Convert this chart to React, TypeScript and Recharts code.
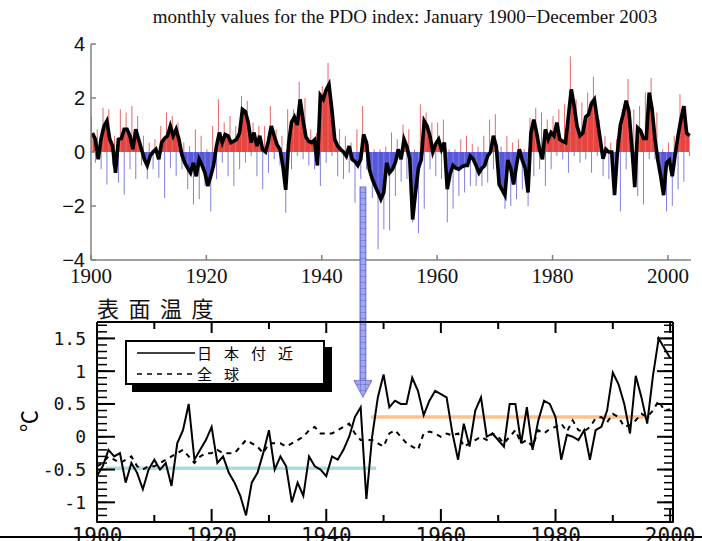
import React from 'react';
import { ComposedChart, Line, Area, Bar, XAxis, YAxis, ReferenceLine } from 'recharts';

// PDO index, smoothed, two values per year (first half, second half), 1900-2003
const pdoSmooth = [
  0.7, 0.47, -0.27, 0.5, 0.96, 1.15, 0.47, 0.22, -0.77, 0.47,
  0.5, 0.84, 0.84, 0.6, 0.1, 0.84, 0.47, 0.1, -0.27, -0.5,
  -0.15, 0.0, 0.1, -0.27, 0.35, 0.5, 0.6, 0.96, 0.6, 0.84,
  0.47, -0.1, -0.4, -0.6, -0.77, -0.4, -0.9, -0.27, -0.5, -0.77,
  -1.26, -0.9, -0.5, 0.22, 0.72, 0.35, 0.65, 0.6, 0.35, 0.4,
  0.47, 0.7, 1.58, 1.5, 1.1, 0.35, 0.72, 0.22, 0.6, 0.1,
  0.0, 0.4, 0.96, 0.6, 0.27, 0.1, -0.5, -1.4, 0.3, 1.1,
  1.3, 1.0, 1.95, 1.2, 0.55, 0.4, 0.35, 0.45, -0.5, 2.1,
  1.95, 2.3, 2.5, 1.58, 0.47, 0.22, 0.1, 0.0, -0.15, 0.22,
  -0.27, -0.35, -0.5, -0.27, 0.65, 0.35, -0.64, -1.0, -1.26, -1.5,
  -1.75, -1.5, -0.4, -0.77, -0.64, -0.4, 0.1, -0.27, 0.47, 0.2,
  -0.27, -2.5, -1.5, -0.6, -0.27, 1.15, 0.96, 0.6, 0.0, 0.3,
  0.47, 0.1, 0.35, -1.38, -0.8, -0.5, -0.6, -0.64, -0.55, -0.5,
  -0.5, -0.15, -0.27, -0.5, -0.77, -0.6, -0.5, -0.15, 0.0, 0.6,
  0.2, -1.2, -1.4, -1.6, -0.3, -0.6, -1.2, -0.5, 0.1, -0.3,
  -0.6, -1.5, 0.7, 1.2, 0.7, 0.1, -0.27, 0.84, 0.47, 0.72,
  0.6, 1.09, 0.47, 0.4, 0.35, 1.33, 2.32, 1.7, 0.96, 0.6,
  0.7, 1.3, 1.4, 1.8, 1.95, 1.2, 0.5, -0.25, 0.1, 0.0,
  0.0, -1.6, 0.0, 1.0, 1.4, 1.9, 1.5, 0.2, -1.3, 0.9,
  0.8, 0.5, 0.5, 2.2, 1.6, 0.5, -0.3, -0.9, -1.6, -0.4,
  -0.3, -0.9, -0.1, 0.6, 1.2, 1.7, 0.7, 0.6,
];

// highest and lowest monthly value of each year, 1900-2003
const pdoHigh = [
  1.33, 0.84, 1.64, 1.58, 0.6, 1.58, 1.46, 1.7, 1.33, 0.6,
  0.35, 0.47, 0.96, 1.46, 1.33, 1.09, 0.35, 0.22, 0.84, 0.6,
  0.1, 0.96, 1.95, 1.09, 1.33, 0.96, 2.07, 1.89, 1.09, 0.96,
  0.96, 1.7, 0.84, 0.6, 1.58, 1.58, 2.6, 2.0, 0.84, 0.7,
  2.44, 3.3, 1.2, 0.84, 0.6, 0.35, 0.84, 1.7, 0.3, 0.1,
  0.1, 0.2, 0.72, 0.47, 1.02, 0.84, 0.1, 1.77, 1.46, 1.09,
  1.09, 1.2, 0.1, 0.1, 0.47, 0.6, 0.3, 0.2, 0.6, 1.2,
  1.4, 0.2, 0.6, 0.35, 0.47, 0.1, 1.27, 1.64, 1.46, 1.2,
  1.33, 1.58, 1.77, 3.55, 1.95, 1.83, 2.2, 2.8, 1.2, 0.6,
  0.35, 0.47, 1.58, 2.7, 1.58, 1.7, 2.2, 2.75, 1.46, 0.1,
  0.35, 0.6, 2.14, 1.7,
];
const pdoLow = [
  -0.4, -0.64, -1.2, -0.5, -1.13, -1.57, -0.64, -1.0, -0.5, -1.0,
  -0.64, -0.95, -1.7, -0.6, -0.9, -0.64, -1.38, -1.94, -1.75, -1.26,
  -2.2, -1.0, -0.4, -0.9, -1.26, -0.64, -0.4, -0.15, -0.9, -1.38,
  -0.77, -0.27, -0.5, -2.25, -0.64, -0.15, -0.27, -0.5, -0.64, -1.26,
  -0.4, -0.15, -0.9, -1.0, -0.77, -1.88, -1.0, -0.64, -1.7, -3.6,
  -2.86, -2.9, -1.63, -1.1, -1.0, -2.6, -3.0, -2.1, -0.64, -0.9,
  -1.0, -2.6, -2.1, -1.63, -1.5, -1.26, -1.26, -1.26, -1.13, -0.64,
  -1.0, -2.1, -2.0, -1.75, -1.38, -2.0, -0.9, -0.64, -1.26, -0.64,
  -0.15, -0.27, -0.77, -0.15, -0.4, -0.27, -0.77, -0.15, -0.9, -1.0,
  -1.26, -2.2, -0.64, -0.4, -1.63, -1.94, -0.27, -0.27, -1.26, -2.2,
  -2.0, -1.38, -1.1, -0.15,
];

// surface temperature anomaly (°C), 1900-2000
const japanTemp = [
  -0.6, -0.45, -0.2, -0.3, -0.25, -0.7, -0.4, -0.55, -0.8, -0.5,
  -0.35, -0.5, -0.4, -0.75, -0.1, 0.1, 0.5, -0.35, -0.2, -0.05,
  0.15, -0.4, -0.3, -0.55, -0.7, -0.9, -1.2, -0.7, -0.55, -0.25,
  0.1, -0.5, -0.3, -0.45, -1.0, -0.7, -0.9, -0.3, -0.45, -0.5,
  -0.6, -0.3, -0.35, -0.2, 0.0, 0.3, 0.45, -0.95, 0.0, 0.6,
  0.95, 0.45, 0.55, 0.5, 0.5, 0.9, 0.7, 0.33, 0.55, 0.7,
  0.65, 0.6, 0.06, -0.35, 0.2, -0.15, 0.4, 0.6, 0.0, 0.05,
  -0.05, -0.15, 0.5, 0.5, -0.1, 0.45, -0.2, 0.25, 0.55, 0.5,
  0.3, -0.35, 0.03, 0.0, -0.05, 0.1, -0.35, 0.1, 0.15, 0.4,
  0.98, 0.8, 0.5, 0.05, 0.93, 0.6, 0.2, 0.93, 1.5, 1.35,
  1.2,
];
const globalTemp = [
  -0.45, -0.4, -0.3, -0.35, -0.4, -0.35, -0.3, -0.45, -0.5, -0.45,
  -0.45, -0.4, -0.35, -0.3, -0.25, -0.2, -0.3, -0.4, -0.3, -0.25,
  -0.25, -0.2, -0.25, -0.25, -0.25, -0.15, -0.05, -0.1, -0.15, -0.25,
  -0.1, -0.1, -0.1, -0.15, -0.1, -0.05, 0.0, 0.1, 0.15, 0.05,
  0.05, 0.05, 0.1, 0.15, 0.2, 0.05, -0.05, -0.05, -0.05, -0.1,
  -0.15, 0.05, 0.1, 0.0, -0.1, -0.15, -0.2, 0.05, 0.08, 0.05,
  0.0, 0.05, 0.02, 0.05, -0.15, -0.1, -0.05, 0.0, -0.05, 0.05,
  0.0, -0.1, 0.0, 0.1, -0.1, -0.05, -0.15, 0.1, 0.05, 0.12,
  0.15, 0.2, 0.08, 0.25, 0.1, 0.08, 0.15, 0.28, 0.3, 0.22,
  0.35, 0.3, 0.15, 0.18, 0.25, 0.35, 0.3, 0.4, 0.55, 0.4,
  0.42,
];

// period means drawn as bars of colour, and the 1947 regime shift
const coldMean = { from: 1901.6, to: 1948.7, value: -0.48 };
const warmMean = { from: 1947.8, to: 1996.5, value: 0.3 };
const shiftYear = 1946.4;

const pdoXTicks = [1900, 1920, 1940, 1960, 1980, 2000];
const pdoYTicks = [-4, -2, 0, 2, 4];
const tempXMajor = [1900, 1920, 1940, 1960, 1980, 2000];
const tempXMinor = [1910, 1930, 1950, 1970, 1990];
const tempYMajor = [-1, -0.5, 0, 0.5, 1, 1.5];
const tempYMinor = [
  -1.3, -1.2, -1.1, -1.0, -0.9, -0.8, -0.7, -0.6, -0.5, -0.4, -0.3, -0.2, -0.1,
  0, 0.1, 0.2, 0.3, 0.4, 0.5, 0.6, 0.7, 0.8, 0.9, 1.0, 1.1, 1.2, 1.3, 1.4, 1.5, 1.6, 1.7,
];
const legendItems = [
  { name: '日本付近', dash: undefined },
  { name: '全球', dash: '5 5' },
];

const pdoRows = pdoSmooth.map((s, i) => ({
  t: 1900 + i / 2 + 0.25,
  s,
  pos: Math.max(s, 0),
  neg: Math.min(s, 0),
  hi: i % 2 === 0 ? pdoHigh[i / 2] : 0,
  lo: i % 2 === 1 ? pdoLow[(i - 1) / 2] : 0,
}));

const tempRows = japanTemp.map((jp, i) => ({ year: 1900 + i, jp, gl: globalTemp[i] }));

const minus = (v: number) => (v < 0 ? '\u2212' + Math.abs(v) : String(v));
const blank = () => <g />;

const Arrow = (p: any) => {
  const { x1, y1, y2 } = p;
  const shaftEnd = y2 - 17;
  return (
    <g>
      <defs>
        <pattern id="hatch" width="5" height="6" patternUnits="userSpaceOnUse">
          <rect width="5" height="6" fill="#a3a6ea" />
          <path d="M0 0H5M0 0V6" stroke="#5f62cc" strokeWidth="1" />
        </pattern>
      </defs>
      <rect x={x1 - 3} y={y1} width={6} height={shaftEnd - y1} fill="url(#hatch)" stroke="#6a6dd0" strokeWidth={0.8} />
      <path d={`M${x1 - 9},${shaftEnd}L${x1 + 9},${shaftEnd}L${x1},${y2}Z`} fill="url(#hatch)" stroke="#6a6dd0" strokeWidth={0.8} />
    </g>
  );
};

const grey = '#808080';
const box = { stroke: '#000', strokeWidth: 2 };
const mono = 'DejaVu Sans Mono';
const cjk = '"Noto Sans CJK JP"';

export default function App() {
  return (
    <div style={{ position: 'absolute', left: 0, top: 0, width: 702, height: 541, overflow: 'hidden', background: '#fff' }}>
      <div style={{ position: 'absolute', left: 0, top: 6, width: 810, textAlign: 'center', fontFamily: 'Liberation Serif', fontSize: 19, lineHeight: '22px', color: '#111' }}>
        monthly values for the PDO index: January 1900{'\u2212'}December 2003
      </div>

      <div style={{ position: 'absolute', left: 0, top: 0 }}>
        <ComposedChart width={702} height={290} data={pdoRows} margin={{ top: 44, right: 11, bottom: 29, left: 90 }} barGap={0}>
          <XAxis type="number" dataKey="t" domain={[1900, 2004]} allowDataOverflow ticks={pdoXTicks} interval={0} height={1}
            tickSize={-5} tickMargin={13} axisLine={{ stroke: grey, strokeWidth: 1.5 }} tickLine={{ stroke: grey, strokeWidth: 1.5 }}
            tick={{ fill: '#111', fontSize: 21, fontFamily: 'Liberation Serif' }} />
          <YAxis type="number" domain={[-4, 4]} allowDataOverflow ticks={pdoYTicks} interval={0} width={1}
            tickSize={-5} tickMargin={11} tickFormatter={minus} axisLine={{ stroke: grey, strokeWidth: 1.5 }} tickLine={{ stroke: grey, strokeWidth: 1.5 }}
            tick={{ fill: '#111', fontSize: 20, fontFamily: 'Liberation Sans' }} />
          <Bar dataKey="hi" fill="#e46a6a" barSize={1} isAnimationActive={false} />
          <Bar dataKey="lo" fill="#7f7fe2" barSize={1} isAnimationActive={false} />
          <Area type="linear" dataKey="pos" baseValue={0} stroke="none" fill="#e8443f" fillOpacity={1} isAnimationActive={false} />
          <Area type="linear" dataKey="neg" baseValue={0} stroke="none" fill="#5757dc" fillOpacity={1} isAnimationActive={false} />
          <Line type="linear" dataKey="s" stroke="#000" strokeWidth={3.6} dot={false} isAnimationActive={false} />
        </ComposedChart>
      </div>

      <div style={{ position: 'absolute', left: 97, top: 294, fontFamily: cjk, fontSize: 22, letterSpacing: 9.5, lineHeight: '26px', color: '#111' }}>
        表面温度
      </div>
      <div style={{ position: 'absolute', left: 12, top: 406, width: 30, height: 30, lineHeight: '30px', textAlign: 'center', fontFamily: cjk, fontSize: 22, transform: 'rotate(-90deg)' }}>
        ℃
      </div>

      <div style={{ position: 'absolute', left: 0, top: 0 }}>
        <ComposedChart width={702} height={541} data={tempRows} margin={{ top: 320, right: 27, bottom: 17, left: 95 }}>
          <XAxis xAxisId="b" type="number" dataKey="year" domain={[1900, 2000.5]} allowDataOverflow ticks={tempXMajor} interval={0} height={1}
            tickSize={-13} tickMargin={19} axisLine={box} tickLine={box} tick={{ fill: '#111', fontSize: 21, fontFamily: mono }} />
          <XAxis xAxisId="bm" type="number" dataKey="year" domain={[1900, 2000.5]} allowDataOverflow ticks={tempXMinor} interval={0} height={1}
            tickSize={-8} axisLine={false} tickLine={box} tick={blank} />
          <XAxis xAxisId="t" orientation="top" type="number" dataKey="year" domain={[1900, 2000.5]} allowDataOverflow ticks={tempXMajor} interval={0} height={1}
            tickSize={-11} axisLine={box} tickLine={box} tick={blank} />
          <XAxis xAxisId="tm" orientation="top" type="number" dataKey="year" domain={[1900, 2000.5]} allowDataOverflow ticks={tempXMinor} interval={0} height={1}
            tickSize={-8} axisLine={false} tickLine={box} tick={blank} />
          <YAxis yAxisId="l" type="number" domain={[-1.3, 1.75]} allowDataOverflow ticks={tempYMajor} interval={0} width={1}
            tickSize={-18} tickMargin={29} axisLine={box} tickLine={box} tick={{ fill: '#111', fontSize: 18, fontFamily: mono }} />
          <YAxis yAxisId="lm" type="number" domain={[-1.3, 1.75]} allowDataOverflow ticks={tempYMinor} interval={0} width={1}
            tickSize={-11} axisLine={false} tickLine={{ stroke: '#000', strokeWidth: 1.5 }} tick={blank} />
          <YAxis yAxisId="r" orientation="right" type="number" domain={[-1.3, 1.75]} allowDataOverflow ticks={tempYMajor} interval={0} width={1}
            tickSize={-16} axisLine={box} tickLine={box} tick={blank} />
          <YAxis yAxisId="rm" orientation="right" type="number" domain={[-1.3, 1.75]} allowDataOverflow ticks={tempYMinor} interval={0} width={1}
            tickSize={-10} axisLine={false} tickLine={{ stroke: '#000', strokeWidth: 1.5 }} tick={blank} />
          <ReferenceLine xAxisId="b" yAxisId="l" segment={[{ x: coldMean.from, y: coldMean.value }, { x: coldMean.to, y: coldMean.value }]}
            stroke="#aadde1" strokeWidth={3.5} ifOverflow="visible" />
          <ReferenceLine xAxisId="b" yAxisId="l" segment={[{ x: warmMean.from, y: warmMean.value }, { x: warmMean.to, y: warmMean.value }]}
            stroke="#f9c28f" strokeWidth={3.5} ifOverflow="visible" />
          <Line xAxisId="b" yAxisId="l" type="linear" dataKey="gl" stroke="#000" strokeWidth={2} strokeDasharray="5 5" dot={false} isAnimationActive={false} />
          <Line xAxisId="b" yAxisId="l" type="linear" dataKey="jp" stroke="#000" strokeWidth={2} dot={false} isAnimationActive={false} />
          <ReferenceLine xAxisId="b" yAxisId="l" segment={[{ x: shiftYear, y: 3.81 }, { x: shiftYear, y: 0.6 }]}
            ifOverflow="visible" shape={Arrow} />
        </ComposedChart>
      </div>

      <div style={{ position: 'absolute', left: 132, top: 347, width: 200, height: 45, background: '#000' }} />
      <div style={{ position: 'absolute', left: 125, top: 340, width: 196, height: 41, border: '2px solid #000', background: '#fff' }}>
        {legendItems.map((it, i) => (
          <div key={it.name} style={{ position: 'absolute', left: 10, top: 2 + i * 21, height: 17, display: 'flex', alignItems: 'center' }}>
            <svg width={60} height={4}>
              <line x1={0} y1={2} x2={58} y2={2} stroke="#000" strokeWidth={1.5} strokeDasharray={it.dash} />
            </svg>
            <span style={{ fontFamily: cjk, fontSize: 15, letterSpacing: 12, lineHeight: '17px' }}>{it.name}</span>
          </div>
        ))}
      </div>

      <div style={{ position: 'absolute', left: 0, top: 536, width: 702, height: 2, background: '#000' }} />
    </div>
  );
}
